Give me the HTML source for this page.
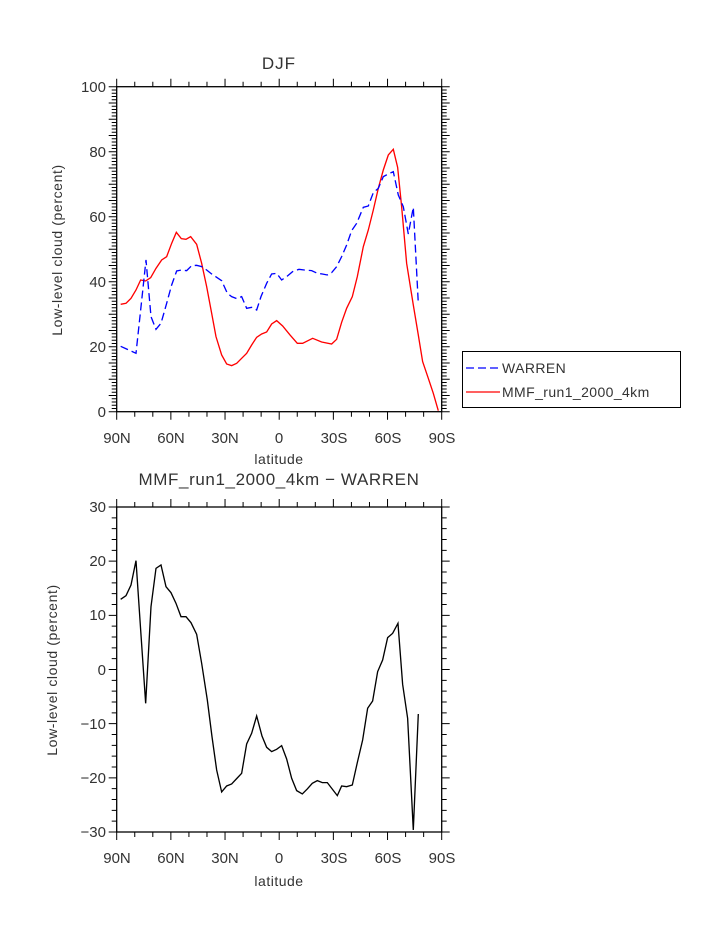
<!DOCTYPE html>
<html><head><style>
body{margin:0;background:#fff}
svg text{font-family:"Liberation Sans",sans-serif;fill:#333}
</style></head><body>
<svg width="723" height="935" xmlns="http://www.w3.org/2000/svg">
<g font-size="15">
<text x="279" y="69" text-anchor="middle" font-size="17" letter-spacing="1">DJF</text>
<text x="279" y="485" text-anchor="middle" font-size="17" letter-spacing="0.6">MMF_run1_2000_4km − WARREN</text>
<text x="279" y="464" text-anchor="middle" font-size="14" letter-spacing="0.5">latitude</text>
<text x="279" y="886" text-anchor="middle" font-size="14" letter-spacing="0.5">latitude</text>
<text transform="translate(62,250) rotate(-90)" text-anchor="middle" font-size="14" letter-spacing="0.6">Low-level cloud (percent)</text>
<text transform="translate(57,670) rotate(-90)" text-anchor="middle" font-size="14" letter-spacing="0.6">Low-level cloud (percent)</text>
<g text-anchor="end">
<text x="106" y="92">100</text><text x="106" y="157">80</text><text x="106" y="222">60</text><text x="106" y="287">40</text><text x="106" y="352">20</text><text x="106" y="417">0</text>
<text x="106" y="512">30</text><text x="106" y="566">20</text><text x="106" y="620">10</text><text x="106" y="675">0</text><text x="106" y="729">−10</text><text x="106" y="783">−20</text><text x="106" y="837">−30</text>
</g>
<g text-anchor="middle">
<text x="117" y="443">90N</text><text x="171" y="443">60N</text><text x="225" y="443">30N</text><text x="279" y="443">0</text><text x="334" y="443">30S</text><text x="388" y="443">60S</text><text x="442" y="443">90S</text>
<text x="117" y="863">90N</text><text x="171" y="863">60N</text><text x="225" y="863">30N</text><text x="279" y="863">0</text><text x="334" y="863">30S</text><text x="388" y="863">60S</text><text x="442" y="863">90S</text>
</g>
</g>
<g stroke="#000" stroke-width="1.3" fill="none">
<rect x="116.7" y="86.7" width="325" height="325"/>
<rect x="116.7" y="507" width="325" height="325"/>
</g>
<g stroke="#000" stroke-width="1" id="ticks"></g>
<g transform="translate(100,70) scale(0.3333)" fill="none" stroke-width="4">
<polyline stroke="#ff0000" points="62,703 78,700 93,685 108,660 122,630 137,633 152,623 168,595 185,570 200,560 215,520 229,487 244,506 258,508 272,500 290,523 305,580 320,650 335,730 348,800 365,855 380,882 395,887 410,880 425,865 440,850 455,825 470,802 485,792 500,786 515,762 530,752 548,768 570,795 592,820 608,820 638,805 665,816 695,822 710,808 725,757 740,715 757,680 772,620 790,530 805,480 820,420 835,355 850,300 865,255 880,238 893,292 905,410 920,580 940,705 955,795 968,875 985,925 1000,970 1015,1022"/>
<polyline stroke="#0000ff" stroke-dasharray="24,12" points="62,829 108,850 122,720 138,570 153,740 168,778 183,760 200,700 215,645 230,603 245,600 260,602 275,587 290,586 305,590 320,600 335,612 350,622 365,632 382,670 395,680 410,686 425,680 440,715 455,712 470,720 483,680 500,640 515,612 530,610 545,630 560,620 578,605 597,598 613,600 635,602 652,610 667,612 682,615 695,608 710,590 725,560 740,525 755,482 770,460 790,412 805,408 820,368 835,355 850,320 865,312 880,305 895,375 910,410 925,492 940,412 955,700"/>
</g>
<g transform="translate(100,490) scale(0.3333)" fill="none" stroke-width="4">
<polyline stroke="#000" points="62,328 78,317 93,285 108,212 122,420 137,640 153,350 168,235 183,225 198,290 213,308 228,340 243,380 258,380 273,398 290,433 305,520 322,630 336,740 350,840 365,906 380,888 395,882 410,866 425,850 440,762 455,730 470,678 486,738 500,772 515,785 530,778 545,767 560,807 575,865 590,902 607,912 622,897 637,880 652,872 667,878 682,878 712,917 725,888 740,890 757,885 772,818 788,750 803,655 818,633 833,545 848,510 863,443 878,430 894,400 908,583 923,685 940,1020 955,672"/>
</g>
<rect x="462.5" y="351.5" width="218" height="56" fill="none" stroke="#000" stroke-width="1"/>
<line x1="466" y1="368" x2="500" y2="368" stroke="#0000ff" stroke-width="1.3" stroke-dasharray="8,4"/>
<line x1="466" y1="392" x2="500" y2="392" stroke="#ff0000" stroke-width="1.3"/>
<text x="502" y="373" font-size="14" letter-spacing="0.4">WARREN</text>
<text x="502" y="397" font-size="14" letter-spacing="0.4">MMF_run1_2000_4km</text>
<script>
var g=document.getElementById('ticks'),d='';
function h(y0,y1,x,len){d+='M'+x+' '+y0+'V'+(y0-len)+'M'+x+' '+y1+'V'+(y1+len);}
function v(x0,x1,y,len){d+='M'+x0+' '+y+'H'+(x0-len)+'M'+x1+' '+y+'H'+(x1+len);}
var L=116.7,R=441.7;
[[86.7,411.7,20,5],[507,832,6,5]].forEach(function(p){
 for(var i=0;i<=18;i++){var x=L+i*325/18;h(p[0],p[1],x,i%3==0?8:5);}
 var n=p[2]*p[3];for(var j=0;j<=n;j++){var y=p[0]+j*325/n;v(L,R,y,j%p[3]==0?8:5);}
});
var pth=document.createElementNS('http://www.w3.org/2000/svg','path');pth.setAttribute('d',d);pth.setAttribute('fill','none');g.appendChild(pth);
</script>
</svg>
</body></html>
